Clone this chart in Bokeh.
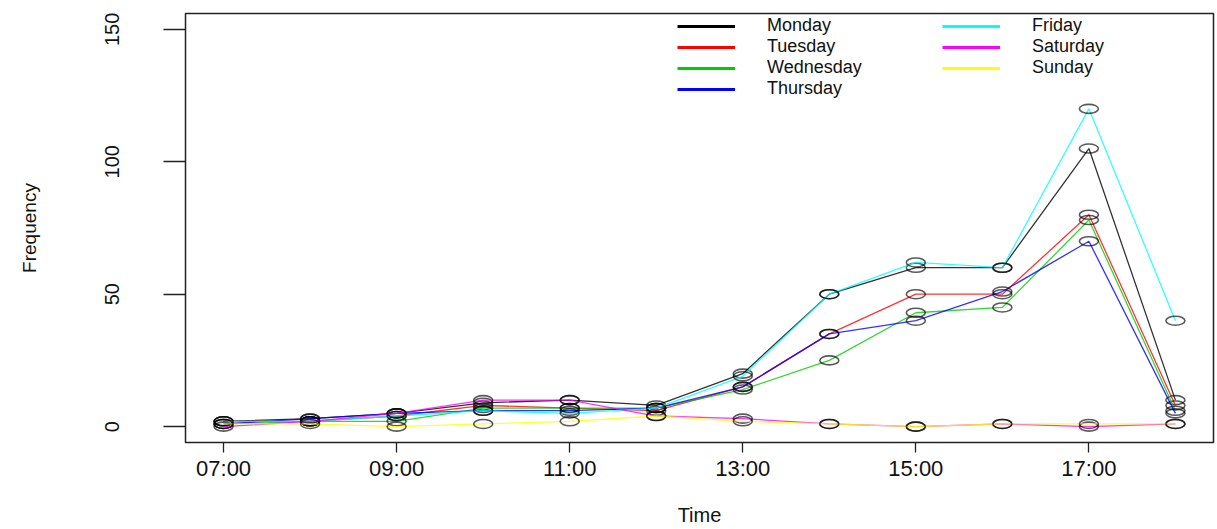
from bokeh.plotting import figure
from bokeh.models import FixedTicker, Legend, LegendItem, Range1d, ColumnDataSource
from bokeh.embed import file_html
from bokeh.resources import INLINE

# ---- data ----
hours = [7, 8, 9, 10, 11, 12, 13, 14, 15, 16, 17, 18]
monday = [2, 3, 5, 9, 10, 8, 20, 50, 60, 60, 105, 10]
tuesday = [2, 2, 4, 8, 7, 6, 15, 35, 50, 50, 80, 8]
wednesday = [1, 2, 2, 7, 7, 7, 14, 25, 43, 45, 78, 6]
thursday = [1, 3, 5, 6, 6, 7, 15, 35, 40, 51, 70, 5]
friday = [2, 2, 4, 6, 5, 7, 19, 50, 62, 60, 120, 40]
saturday = [0, 2, 5, 10, 10, 4, 3, 1, 0, 1, 0, 1]
sunday = [1, 1, 0, 1, 2, 4, 2, 1, 0, 1, 1, 1]

day_names = ["Monday", "Tuesday", "Wednesday", "Thursday", "Friday", "Saturday", "Sunday"]
day_values = [monday, tuesday, wednesday, thursday, friday, saturday, sunday]
day_colors = ["#000000", "#FF0000", "#00CD00", "#0000FF", "#00FFFF", "#FF00FF", "#FFFF00"]

x_ticks = [7, 9, 11, 13, 15, 17]
x_tick_labels = ["07:00", "09:00", "11:00", "13:00", "15:00", "17:00"]
y_ticks = [0, 50, 100, 150]

FONT = "Liberation Sans"
NAN = float("nan")

p = figure(width=1217, height=529, output_backend="svg", toolbar_location=None,
           x_range=Range1d(6.56, 18.44), y_range=Range1d(-6, 156),
           min_border_left=185, min_border_right=4, min_border_top=13, min_border_bottom=87)

p.xgrid.visible = False
p.ygrid.visible = False
p.outline_line_color = "#222222"
p.outline_line_width = 1.5
p.background_fill_color = "white"
p.border_fill_color = "white"

# axes
p.xaxis.ticker = FixedTicker(ticks=x_ticks)
p.xaxis.major_label_overrides = {t: l for t, l in zip(x_ticks, x_tick_labels)}
p.yaxis.ticker = FixedTicker(ticks=y_ticks)
for ax in (p.xaxis[0], p.yaxis[0]):
    ax.axis_line_color = None
    ax.major_tick_line_color = "#222222"
    ax.major_tick_line_width = 1.3
    ax.minor_tick_line_color = None
    ax.major_tick_in = 0
    ax.major_label_text_font = FONT
    ax.major_label_text_color = "#111111"
    ax.axis_label_text_font = FONT
    ax.axis_label_text_font_style = "normal"
    ax.axis_label_text_color = "#111111"

p.xaxis.major_tick_out = 10
p.xaxis.major_label_text_font_size = "22px"
p.xaxis.major_label_standoff = 3
p.xaxis.axis_label = "Time"
p.xaxis.axis_label_text_font_size = "20px"
p.xaxis.axis_label_standoff = 20

p.yaxis.major_tick_out = 22
p.yaxis.major_label_orientation = "vertical"
p.yaxis.major_label_text_font_size = "20px"
p.yaxis.major_label_standoff = 44
p.yaxis.axis_label = "Frequency"
p.yaxis.axis_label_text_font_size = "19px"
p.yaxis.axis_label_standoff = 63

# series
for name, vals, col in zip(day_names, day_values, day_colors):
    src = ColumnDataSource(dict(x=hours, y=vals))
    p.line("x", "y", source=src, line_color=col, line_width=1.3, line_alpha=0.8)
    p.ellipse("x", "y", source=src, width=19, height=9,
              width_units="screen", height_units="screen",
              fill_color=None, line_color="black", line_alpha=0.65, line_width=1.6)

# legend proxies (thicker lines, nothing drawn in the plot)
items = []
for name, col in zip(day_names, day_colors):
    r = p.line(x=[NAN, NAN], y=[NAN, NAN], line_color=col, line_width=3)
    items.append(LegendItem(label=name, renderers=[r]))

legend = Legend(items=items, orientation="vertical", nrows=4,
                location=(492, 343), padding=0, margin=0, spacing=0,
                glyph_width=58, glyph_height=16, label_height=16,
                label_standoff=32, label_width=175,
                label_text_font=FONT, label_text_font_size="18px",
                label_text_color="#111111", label_text_baseline="middle",
                border_line_color=None, background_fill_alpha=0)
p.add_layout(legend)

open("out.html", "w").write(file_html(p, INLINE))
